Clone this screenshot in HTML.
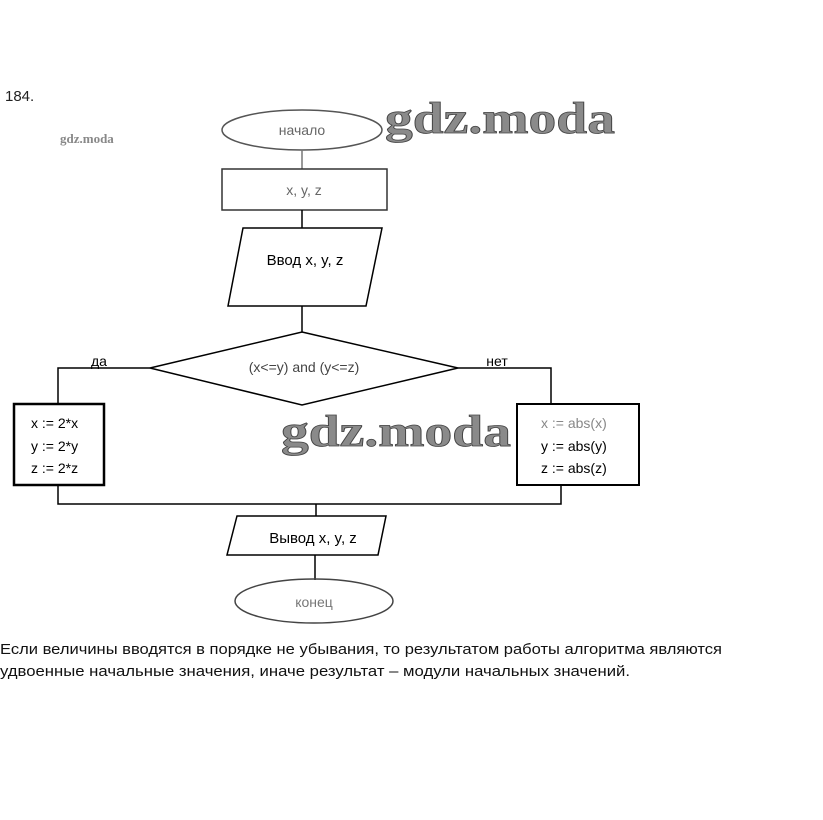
<!DOCTYPE html>
<html><head><meta charset="utf-8"><style>
html,body{margin:0;padding:0;background:#fff;width:823px;height:820px;overflow:hidden}
svg{display:block}
</style></head><body>
<svg width="823" height="820" viewBox="0 0 823 820" xmlns="http://www.w3.org/2000/svg" font-family="'Liberation Sans', sans-serif">
<rect width="823" height="820" fill="#fff"/>
<text x="5" y="101" font-size="15" fill="#222">184.</text>
<text x="60" y="143" font-size="13" font-family="'Liberation Serif', serif" font-weight="bold" fill="#888">gdz.moda</text>
<g fill="none" stroke="#000" stroke-width="1.5">
<ellipse cx="302" cy="130" rx="80" ry="20" stroke="#555"/>
<line x1="302" y1="150" x2="302" y2="169" stroke="#777"/>
<rect x="222" y="169" width="165" height="41" stroke="#333"/>
<line x1="302" y1="210" x2="302" y2="228"/>
<polygon points="243,228 382,228 366,306 228,306"/>
<line x1="302" y1="306" x2="302" y2="332"/>
<polygon points="302,332 458,368 302,405 150,368"/>
<polyline points="150,368 58,368 58,404"/>
<polyline points="458,368 551,368 551,404"/>
<rect x="14" y="404" width="90" height="81" stroke-width="2.5"/>
<rect x="517" y="404" width="122" height="81" stroke-width="2"/>
<polyline points="58,485 58,504 561,504 561,485"/>
<line x1="316" y1="504" x2="316" y2="516"/>
<polygon points="237,516 386,516 378,555 227,555"/>
<line x1="315" y1="555" x2="315" y2="580"/>
<ellipse cx="314" cy="601" rx="79" ry="22" stroke="#444"/>
</g>
<g font-size="14" fill="#000" text-anchor="middle">
<text x="302" y="135" fill="#666">начало</text>
<text x="304" y="195" fill="#666">x, y, z</text>
<text x="305" y="265" font-size="15">Ввод x, y, z</text>
<text x="304" y="372" fill="#444">(x&lt;=y) and (y&lt;=z)</text>
<text x="99" y="366">да</text>
<text x="497" y="366">нет</text>
<text x="313" y="543" font-size="15">Вывод x, y, z</text>
<text x="314" y="607" fill="#777">конец</text>
</g>
<g font-size="14" fill="#000">
<text x="31" y="428">x := 2*x</text>
<text x="31" y="451">y := 2*y</text>
<text x="31" y="473">z := 2*z</text>
<text x="541" y="428" fill="#888">x := abs(x)</text>
<text x="541" y="451">y := abs(y)</text>
<text x="541" y="473">z := abs(z)</text>
</g>
<g font-family="'Liberation Serif', serif" font-weight="bold" fill="#8a8a8a" stroke="#444" stroke-width="0.8">
<text x="385" y="133" font-size="44" textLength="230" lengthAdjust="spacingAndGlyphs">gdz.moda</text>
<text x="281" y="446" font-size="44" textLength="230" lengthAdjust="spacingAndGlyphs">gdz.moda</text>
</g>
<g font-size="15" fill="#111">
<text x="0" y="654" textLength="722" lengthAdjust="spacingAndGlyphs">Если величины вводятся в порядке не убывания, то результатом работы алгоритма являются</text>
<text x="0" y="676" textLength="630" lengthAdjust="spacingAndGlyphs">удвоенные начальные значения, иначе результат – модули начальных значений.</text>
</g>
</svg>
</body></html>
